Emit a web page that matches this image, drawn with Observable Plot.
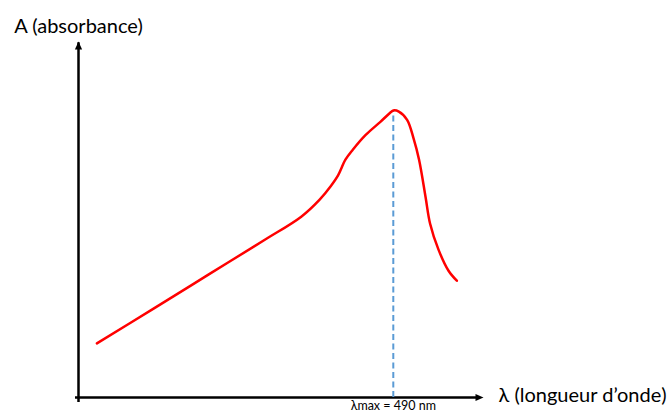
<!DOCTYPE html>
<html>
<head>
<meta charset="utf-8">
<script src="https://cdn.jsdelivr.net/npm/d3@7"></script>
<script src="https://cdn.jsdelivr.net/npm/@observablehq/plot@0.6"></script>
<style>
  html, body { margin: 0; padding: 0; background: #fff; }
  #chart svg { display: block; }
</style>
</head>
<body>
<div id="chart"></div>
<script>
// Spectrum values (wavelength in nm, absorbance arbitrary units)
const wavelength = [329, 360, 390, 420, 440, 450, 456, 460, 464, 468, 475, 483, 488, 490, 493, 497.5, 501, 504, 507.5, 510, 514.5, 520, 524.5];
const absorbance = [0.19, 0.313, 0.433, 0.553, 0.635, 0.695, 0.742, 0.78, 0.835, 0.87, 0.922, 0.968, 0.998, 1.008, 1.004, 0.975, 0.91, 0.835, 0.705, 0.61, 0.52, 0.445, 0.41];
const lambdaMax = 490;
const xDomain = [319, 539];
const yDomain = [0, 1.25];
const yLabel = "A (absorbance)";
const xLabel = "λ (longueur d’onde)";
const maxLabel = "λmax = 490 nm";

const data = wavelength.map((w, i) => ({w, a: absorbance[i]}));
const peakA = d3.max(absorbance);

const arrowUp = {draw(c) { c.moveTo(0, 0); c.lineTo(3.6, 8); c.lineTo(-3.6, 8); c.closePath(); }};
const arrowRight = {draw(c) { c.moveTo(0, 0); c.lineTo(-8, 3.6); c.lineTo(-8, -3.6); c.closePath(); }};

const chart = Plot.plot({
  width: 668,
  height: 417,
  marginLeft: 78,
  marginRight: 185,
  marginTop: 41,
  marginBottom: 20,
  style: {fontFamily: "Lato, 'Open Sans', sans-serif", background: "#fff"},
  x: {domain: xDomain, axis: null},
  y: {domain: yDomain, axis: null},
  marks: [
    // axes
    Plot.ruleX([xDomain[0]], {y1: yDomain[0], y2: yDomain[1], stroke: "black", strokeWidth: 2.5, insetTop: 5, insetBottom: -1.2}),
    Plot.ruleY([yDomain[0]], {x1: xDomain[0], x2: xDomain[1], stroke: "black", strokeWidth: 2.5, insetRight: 5, insetLeft: -3}),
    Plot.dot([yDomain[1]], {x: () => xDomain[0], y: d => d, symbol: arrowUp, fill: "black", stroke: "none"}),
    Plot.dot([xDomain[1]], {x: d => d, y: () => yDomain[0], symbol: arrowRight, fill: "black", stroke: "none"}),
    // dashed lambda max line
    Plot.ruleX([lambdaMax], {y1: 0, y2: peakA, stroke: "#5b9bd5", strokeWidth: 2, strokeDasharray: "6,3.5"}),
    // spectrum
    Plot.line(data, {x: "w", y: "a", stroke: "#ff0000", strokeWidth: 2.5, curve: "catmull-rom"}),
    // labels
    Plot.text([yLabel], {x: () => xDomain[0], y: () => yDomain[1], text: d => d, fontSize: 20, fill: "black", textAnchor: "middle", dy: -15}),
    Plot.text([xLabel], {x: () => xDomain[1], y: () => yDomain[0], text: d => d, fontSize: 20, fill: "black", textAnchor: "start", dx: 15, dy: -2}),
    Plot.text([maxLabel], {x: () => lambdaMax, y: () => 0, text: d => d, fontSize: 12.5, fill: "black", textAnchor: "middle", dy: 8.5})
  ]
});
document.getElementById("chart").appendChild(chart);
</script>
</body>
</html>
